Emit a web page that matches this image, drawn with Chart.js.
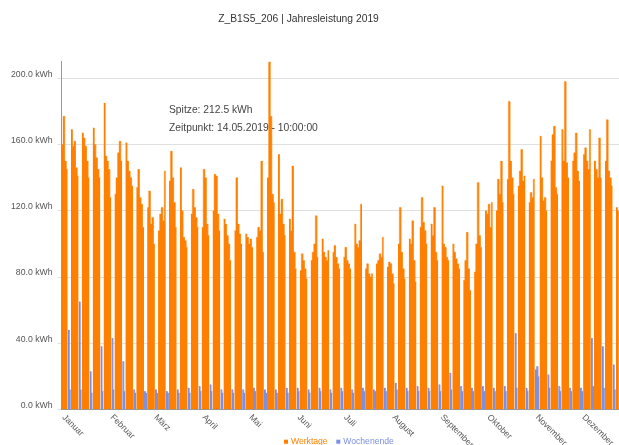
<!DOCTYPE html>
<html>
<head>
<meta charset="utf-8">
<script src="https://cdn.jsdelivr.net/npm/chart.js@4/dist/chart.umd.min.js"></script>
<style>
html,body{margin:0;padding:0;background:#fff;overflow:hidden;width:619px;height:445px}
#wrap{position:absolute;left:0;top:0;width:640px;height:460px}
</style>
</head>
<body>
<div id="wrap"><canvas id="c" width="640" height="460"></canvas></div>
<script>
// ---------- data (daily maxima in kWh) ----------
const titel = 'Z_B1S5_206 | Jahresleistung 2019';
const monate = ['Januar','Februar','März','April','Mai','Juni','Juli','August','September','Oktober','November','Dezember'];
const serienNamen = ['Werktage','Wochenende'];
const yTicks = [0, 40, 80, 120, 160, 200];
const feiertage = ['2019-11-01'];
const spitzeZeit = '10:00:00';

const jan = [160,177,150,145, 48,12, 169,159,162,146,141, 65,12, 167,164,159,150,140, 23,10, 170,160,152,145,140, 38,11, 185,153,150,145];
const feb = [128, 43,12, 130,140,155,162,150, 29,11, 161,150,144,140,135, 12,10, 134,145,128,124,110, 11,10, 122,132,112,116];
const mar = [100, 12,10, 108,118,122,114,144, 11,10, 138,156,140,125,110, 12,10, 146,120,104,102,98, 13,10, 118,133,122,116,110, 14,11];
const apr = [110,145,140,112,105, 15,11, 120,142,141,118,108, 12,10, 115,112,105,100,90, 12,10, 108,140,112,106,100, 12,10, 106,104];
const mai = [100,103,98, 13,11, 104,110,108,150,95, 12,10, 140,212.5,177,130,125, 12,10, 154,118,127,112,105, 13,10, 115,108,147,95,85];
const jun = [13,11, 84,94,90,85,79, 12,10, 90,95,100,117,92, 13,11, 103,95,92,90,96, 12,10, 95,99,92,88,85, 13,11];
const jul = [92,98,90,88,85, 12,10, 112,100,98,102,124, 13,11, 85,88,82,80,82, 12,11, 88,90,94,92,104, 13,11, 86,89,88];
const aug = [82,76, 16,12, 100,122,95,85,79, 13,11, 103,100,114,90,77, 14,11, 110,128,113,108,100, 13,11, 112,105,122,95,90, 15];
const sep = [11, 135,100,98,92,90, 22,12, 100,95,91,88,85, 14,11, 78,90,107,85,72, 13,11, 83,100,137,105,98, 14,11, 120];
const okt = [118,124,110,125, 13,11, 120,139,130,150,125, 14,11, 139,186,150,140,130, 46,13, 135,144,157,138,141, 13,11, 125,131,128,139];
const nov = [24, 26,20, 165,140,126,128,120, 21,13, 150,166,171,134,130, 14,11, 169,150,198,149,140, 13,11, 150,155,167,144,138, 13];
const dez = [11, 154,158,150,145,169, 43,14, 150,145,140,164,140, 38,13, 150,175,144,140,135, 27,12, 122,120];

// ---------- build the tables the library needs ----------
const monatsWerte = [jan, feb, mar, apr, mai, jun, jul, aug, sep, okt, nov, dez];
const monatsTage = [31,28,31,30,31,30,31,31,30,31,30,31];
const tage = [], monatsStart = [];
let maxVal = -1, maxLabel = '';
monatsTage.forEach((n, m) => {
  monatsStart.push(tage.length);
  for (let t = 0; t < n; t++) {
    const iso = '2019-' + String(m + 1).padStart(2, '0') + '-' + String(t + 1).padStart(2, '0');
    const wd = new Date(2019, m, t + 1).getDay();
    const v = monatsWerte[m][t];
    const val = (v === undefined) ? null : v;
    tage.push({ val, frei: wd === 0 || wd === 6 || feiertage.includes(iso) });
    if (val !== null && val > maxVal) {
      maxVal = val;
      maxLabel = String(t + 1).padStart(2, '0') + '.' + String(m + 1).padStart(2, '0') + '.2019';
    }
  }
});
// each day becomes a flat step from its start to its end; other days break the line
function stufen(frei) {
  const pts = [];
  tage.forEach((t, d) => {
    if (t.frei === frei && t.val !== null) {
      pts.push({ x: d, y: t.val }, { x: d + 1, y: t.val });
    } else if (pts.length && pts[pts.length - 1].y !== null) {
      pts.push({ x: d + 0.5, y: null });
    }
  });
  return pts;
}

const FONT = '"Liberation Sans", Arial, sans-serif';
const ORANGE = '#ff8000';
const BLUE = '#7b8fe3';

const textPlugin = {
  id: 'texte',
  afterDraw(chart) {
    const ctx = chart.ctx;
    const xs = chart.scales.x;
    ctx.save();
    ctx.font = '10.3px ' + FONT;
    ctx.fillStyle = '#333';
    ctx.textAlign = 'center';
    ctx.textBaseline = 'middle';
    ctx.fillText(titel, 298.5, 19);
    ctx.textAlign = 'left';
    ctx.fillStyle = '#444';
    ctx.fillText('Spitze: ' + maxVal.toFixed(1) + ' kWh', 169, 110);
    ctx.fillText('Zeitpunkt: ' + maxLabel + ' - ' + spitzeZeit, 169, 127.7);
    ctx.font = '8.7px ' + FONT;
    ctx.fillStyle = '#555';
    monate.forEach((name, i) => {
      const x = xs.getPixelForValue(monatsStart[i]);
      ctx.save();
      ctx.translate(x + 2, 416);
      ctx.rotate(Math.PI / 4);
      ctx.textAlign = 'left';
      ctx.textBaseline = 'middle';
      ctx.fillText(name, 0, 0);
      ctx.restore();
    });
    ctx.font = '8.6px ' + FONT;
    ctx.textBaseline = 'middle';
    ctx.textAlign = 'left';
    const ly = 441.7;
    const items = [[serienNamen[0], ORANGE, 285], [serienNamen[1], BLUE, 337.3]];
    items.forEach(([txt, col, x]) => {
      ctx.fillStyle = col;
      ctx.fillRect(x - 1, ly - 2, 4, 4);
      ctx.fillText(txt, x + 6, ly);
    });
    ctx.restore();
  }
};

new Chart(document.getElementById('c'), {
  type: 'line',
  data: {
    datasets: [
      { label: serienNamen[0], data: stufen(false), backgroundColor: ORANGE, borderColor: ORANGE, borderWidth: 0.4, fill: 'origin', pointRadius: 0, tension: 0, spanGaps: false },
      { label: serienNamen[1], data: stufen(true), backgroundColor: BLUE, borderColor: BLUE, borderWidth: 0.4, fill: 'origin', pointRadius: 0, tension: 0, spanGaps: false }
    ]
  },
  options: {
    responsive: false,
    animation: false,
    parsing: false,
    normalized: true,
    layout: { padding: { left: 0, top: 61.7, right: 10.2, bottom: 0 } },
    plugins: { legend: { display: false }, title: { display: false }, tooltip: { enabled: false } },
    scales: {
      x: {
        type: 'linear', min: 0, max: 365,
        ticks: { display: false },
        grid: { display: false, drawTicks: false },
        border: { display: true, color: '#999' },
        afterFit(s) { s.height = 50.5; }
      },
      y: {
        min: 0, max: 210,
        afterBuildTicks(s) { s.ticks = yTicks.map(v => ({ value: v })); },
        ticks: {
          callback: v => Number(v).toFixed(1) + ' kWh',
          font: { family: FONT, size: 8.7 },
          color: '#555', padding: 5, labelOffset: -4
        },
        grid: { color: '#e0e0e0', tickLength: 4, drawTicks: true },
        border: { color: '#999' },
        afterFit(s) { s.width = 61.5; }
      }
    }
  },
  plugins: [textPlugin]
});
</script>
</body>
</html>
